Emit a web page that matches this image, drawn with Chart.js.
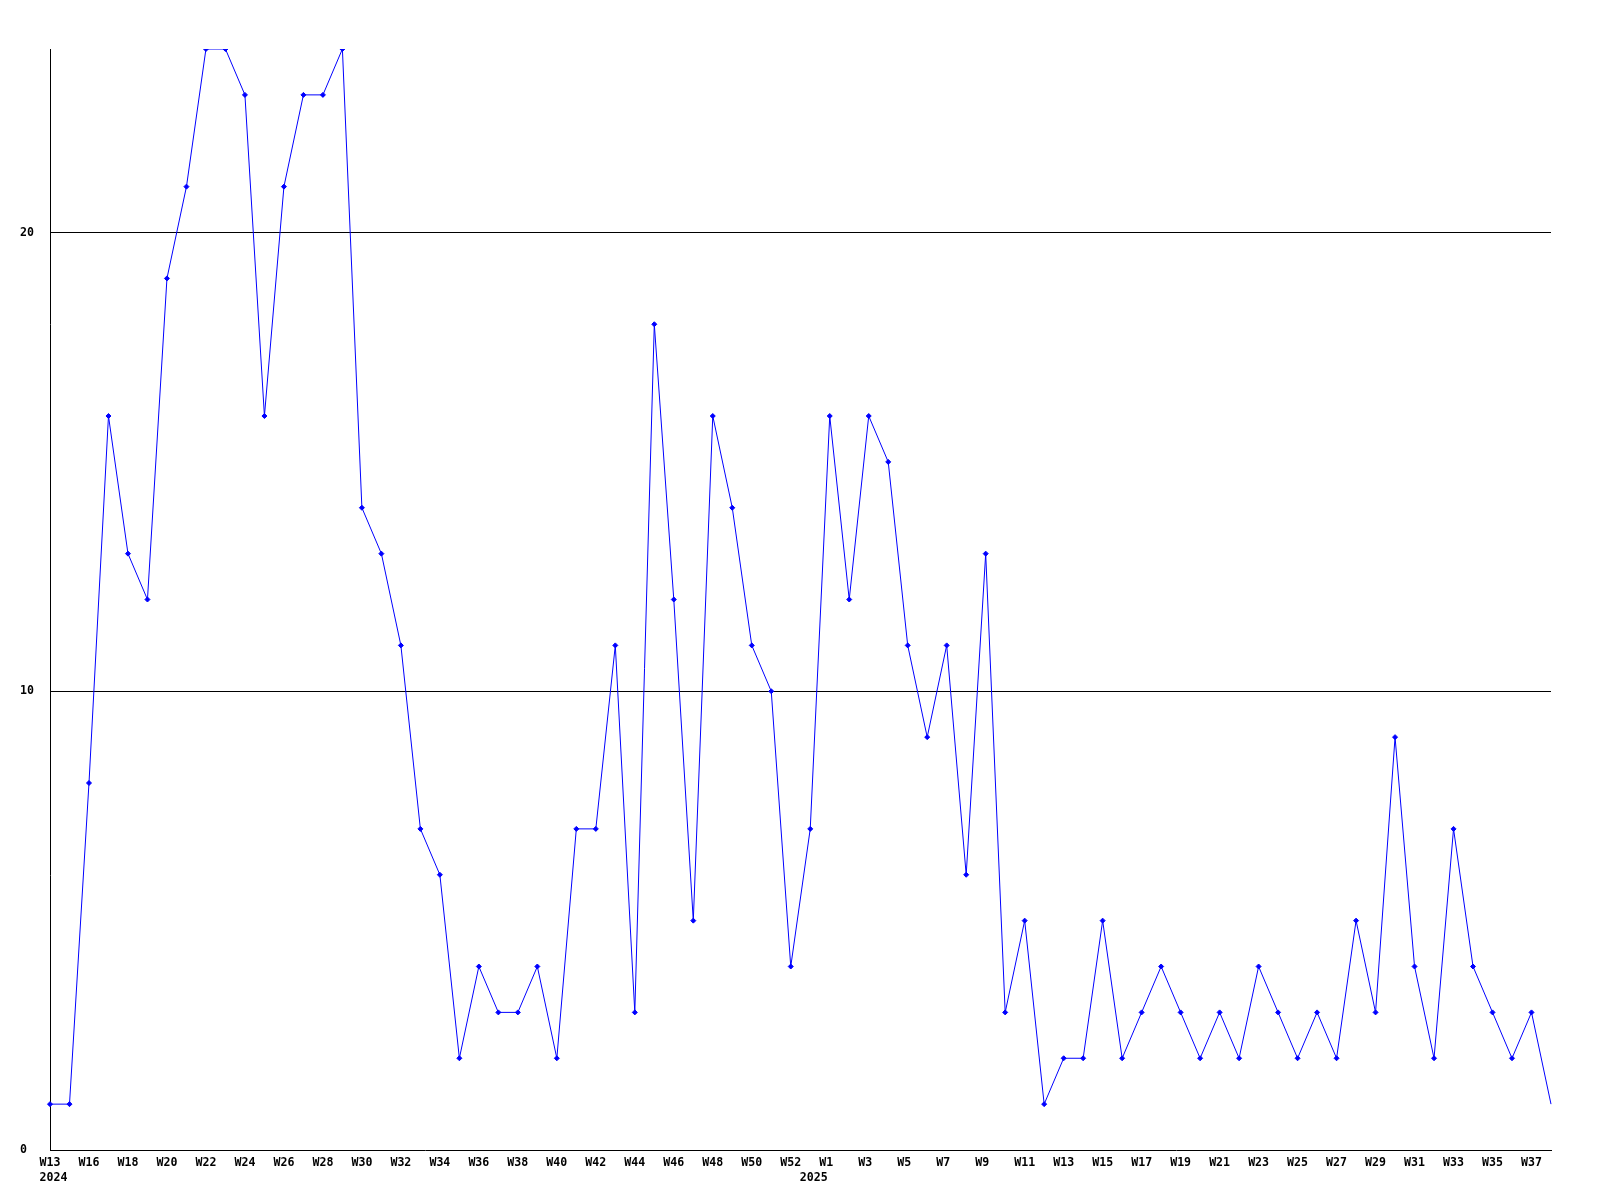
<!DOCTYPE html>
<html>
<head>
<meta charset="utf-8">
<script src="https://cdn.jsdelivr.net/npm/chart.js@4/dist/chart.umd.min.js"></script>
<style>
  html, body { margin: 0; padding: 0; background: #fff; }
  canvas { display: block; }
</style>
</head>
<body>
<canvas id="weekChart" width="1600" height="1200"></canvas>
<script>
// weeks 2024 W13 .. 2025 W38 (2025 starts with week 0)
const weeks = ['W13', 'W15', 'W16', 'W17', 'W18', 'W19', 'W20', 'W21', 'W22', 'W23', 'W24', 'W25',
    'W26', 'W27', 'W28', 'W29', 'W30', 'W31', 'W32', 'W33', 'W34', 'W35', 'W36', 'W37', 'W38', 'W39',
    'W40', 'W41', 'W42', 'W43', 'W44', 'W45', 'W46', 'W47', 'W48', 'W49', 'W50', 'W51', 'W52',
    'W0', 'W1', 'W2', 'W3', 'W4', 'W5', 'W6', 'W7', 'W8', 'W9', 'W10', 'W11', 'W12', 'W13',
    'W14', 'W15', 'W16', 'W17', 'W18', 'W19', 'W20', 'W21', 'W22', 'W23', 'W24', 'W25', 'W26', 'W27',
    'W28', 'W29', 'W30', 'W31', 'W32', 'W33', 'W34', 'W35', 'W36', 'W37', 'W38'];
const yearStarts = { 0: '2024', 39: '2025' };
const counts = [1, 1, 8, 16, 13, 12, 19, 21, 24, 24, 23, 16, 21, 23, 23, 24, 14, 13, 11, 7,
    6, 2, 4, 3, 3, 4, 2, 7, 7, 11, 3, 18, 12, 5, 16, 14, 11, 10, 4, 7,
    16, 12, 16, 15, 11, 9, 11, 6, 13, 3, 5, 1, 2, 2, 5, 2, 3, 4, 3, 2,
    3, 2, 4, 3, 2, 3, 2, 5, 3, 9, 4, 2, 7, 4, 3, 2, 3, 1];
const yTicks = [0, 10, 20];

const tickFont = { family: "'DejaVu Sans Mono', monospace", size: 11.6, weight: 'bold', lineHeight: 1.3 };

const ctx = document.getElementById('weekChart').getContext('2d');
new Chart(ctx, {
    type: 'line',
    data: {
        labels: weeks,
        datasets: [{
            data: counts,
            borderColor: '#0000ff',
            borderWidth: 1,
            tension: 0,
            fill: false,
            pointStyle: 'rectRot',
            pointRadius: c => c.dataIndex === counts.length - 1 ? 0 : 2.5,
            pointBorderWidth: 1,
            pointBackgroundColor: '#0000ff',
            pointBorderColor: '#0000ff'
        }]
    },
    options: {
        responsive: false,
        animation: false,
        layout: { padding: { top: 49, right: 49, left: 20, bottom: 0 } },
        plugins: { legend: { display: false }, tooltip: { enabled: false } },
        scales: {
            x: {
                offset: false,
                grid: { display: false, drawTicks: false },
                border: { color: '#000', width: 1 },
                afterFit: axis => { axis.height = 50; },
                ticks: {
                    autoSkip: false,
                    maxRotation: 0,
                    minRotation: 0,
                    padding: 5,
                    color: '#000',
                    font: tickFont,
                    callback: function (value, index) {
                        // labels sit left-aligned, so pad to a 3 char box
                        const wk = index % 2 === 0 ? weeks[index].padEnd(3, ' ') : '';
                        const yr = yearStarts[index];
                        return yr ? [wk, ' ' + yr] : wk;
                    }
                }
            },
            y: {
                min: 0,
                max: 24,
                afterBuildTicks: axis => { axis.ticks = yTicks.map(v => ({ value: v })); },
                afterFit: axis => { axis.width = 30; },
                grid: {
                    drawTicks: false,
                    color: c => (c.tick && (c.tick.value === 10 || c.tick.value === 20)) ? '#000' : 'rgba(0,0,0,0)',
                    lineWidth: 1
                },
                border: { color: '#000', width: 1 },
                ticks: {
                    crossAlign: 'far',
                    padding: 0,
                    color: '#000',
                    font: tickFont
                }
            }
        }
    }
});
</script>
</body>
</html>
